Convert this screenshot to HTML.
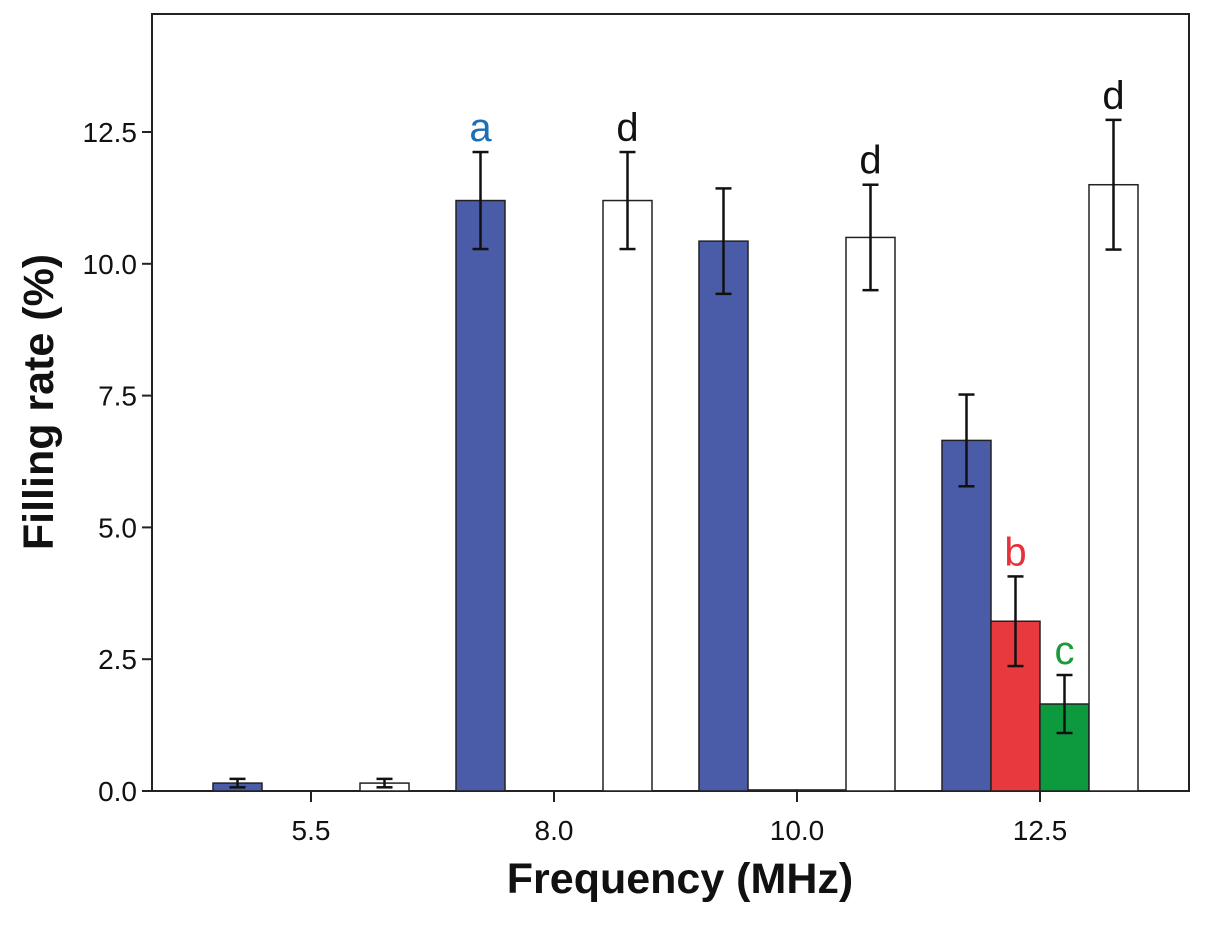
<!DOCTYPE html>
<html><head><meta charset="utf-8"><style>
html,body{margin:0;padding:0;background:#fff;}
svg{display:block;font-family:"Liberation Sans",Arial,sans-serif;}
</style></head><body>
<svg id="chart" width="1205" height="940" viewBox="0 0 1205 940">
<rect x="152" y="14" width="1037" height="777" fill="none" stroke="#222" stroke-width="2"/>
<g id="bars"></g>
<g id="yaxis"></g>
<g id="xaxis"></g>
<text x="0" y="0" transform="translate(53,402) rotate(-90)" text-anchor="middle" font-size="43" font-weight="bold" fill="#111">Filling  rate (%)</text>
<text x="680" y="893" text-anchor="middle" font-size="43" font-weight="bold" fill="#111">Frequency (MHz)</text>
</svg>
<script>
const categories = ["5.5","8.0","10.0","12.5"];
const seriesBlue = [0.15, 11.2, 10.43, 6.65];
const seriesRed = [0, 0, 0.02, 3.22];
const seriesGreen = [0, 0, 0.02, 1.65];
const seriesWhite = [0.15, 11.2, 10.5, 11.5];
const errBlue = [0.08, 0.92, 1.0, 0.87];
const errRed = [0, 0, 0, 0.85];
const errGreen = [0, 0, 0, 0.55];
const errWhite = [0.08, 0.92, 1.0, 1.23];
const yTicks = [0, 2.5, 5.0, 7.5, 10.0, 12.5];
const labels = [[1,0,"a","#1a6fb8"],[1,3,"d","#111"],[2,3,"d","#111"],[3,1,"b","#e8303a"],[3,2,"c","#1a9a3a"],[3,3,"d","#111"]];

const NS="http://www.w3.org/2000/svg";
const y0=791, pxPerUnit=52.72;
const yScale=v=>y0-v*pxPerUnit;
const groupCenter=i=>311+i*243;
const barW=49;
const barX=(i,s)=>groupCenter(i)-2*barW+s*barW;
const colors=["#4a5ba8","#e8393f","#0d9a3e","#ffffff"];
const series=[seriesBlue,seriesRed,seriesGreen,seriesWhite];
const errs=[errBlue,errRed,errGreen,errWhite];
const sNames=["blue","red","green","white"];
function mk(tag,attrs,parent){const e=document.createElementNS(NS,tag);for(const k in attrs)e.setAttribute(k,attrs[k]);parent.appendChild(e);return e;}
const bars=document.getElementById('bars');
categories.forEach((c,i)=>{
  series.forEach((ser,s)=>{
    const v=ser[i]; const x=barX(i,s);
    if(v>0){
      const r=mk('rect',{x:x,y:yScale(v),width:barW,height:y0-yScale(v),fill:colors[s],stroke:"#222","stroke-width":1.5},bars);
      
      
      const e=errs[s][i];
      if(e>0){
        const cx=x+barW/2;
        const g=mk('g',{stroke:"#111","stroke-width":2.5},bars);
        
        
        mk('line',{x1:cx,x2:cx,y1:yScale(v+e),y2:yScale(v-e)},g);
        mk('line',{x1:cx-8,x2:cx+8,y1:yScale(v+e),y2:yScale(v+e)},g);
        mk('line',{x1:cx-8,x2:cx+8,y1:yScale(v-e),y2:yScale(v-e)},g);
      }
    }
  });
});
labels.forEach(l=>{
  const [i,s,t,col]=l;
  const v=series[s][i]+errs[s][i];
  const tx=mk('text',{x:barX(i,s)+barW/2,y:yScale(v)-11,"text-anchor":"middle","font-size":40,fill:col},bars);
  tx.textContent=t;
  
  
});
const ya=document.getElementById('yaxis');
yTicks.forEach(t=>{
  const y=yScale(t);
  const ln=mk('line',{x1:142,x2:152,y1:y,y2:y,stroke:"#222","stroke-width":2},ya);
  
  
  const tx=mk('text',{x:137,y:y+10,"text-anchor":"end","font-size":28,fill:"#111"},ya);
  tx.textContent=t.toFixed(1);
  
  
});
const xa=document.getElementById('xaxis');
categories.forEach((c,i)=>{
  const x=groupCenter(i);
  const ln=mk('line',{x1:x,x2:x,y1:791,y2:802,stroke:"#222","stroke-width":2},xa);
  
  
  const tx=mk('text',{x:x,y:840,"text-anchor":"middle","font-size":28,fill:"#111"},xa);
  tx.textContent=c;
  
  
});
</script>
</body></html>
